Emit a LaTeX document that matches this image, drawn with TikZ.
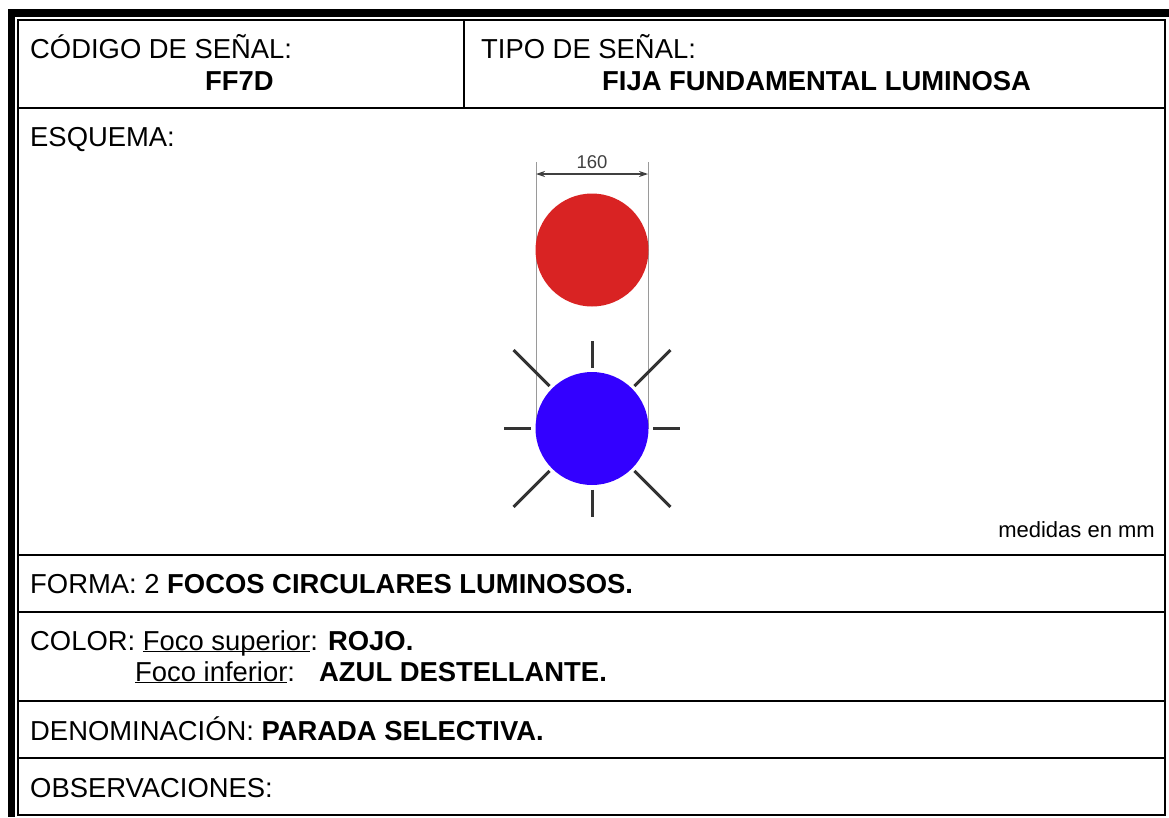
\documentclass[tikz,border=0pt]{standalone}
\usepackage{fontspec}
\setmainfont{Liberation Sans}
\usetikzlibrary{arrows.meta,calc}
\definecolor{sigred}{HTML}{D92323}
\definecolor{sigblue}{HTML}{3300FF}
\definecolor{raygray}{HTML}{333333}
\definecolor{dimgray}{HTML}{9A9A9A}
\newcommand{\ulword}[1]{\underline{\smash{#1}}}
\tikzset{
  lbl/.style={anchor=base west, inner sep=0pt, font=\fontsize{27.4}{30}\selectfont},
  blbl/.style={lbl, font=\fontsize{27.4}{30}\selectfont\bfseries},
  frameline/.style={line width=2pt, black},
  ray/.style={line width=3pt, raygray},
  extline/.style={line width=0.8pt, dimgray},
}
\begin{document}
\begin{tikzpicture}[x=1pt,y=-1pt]
\useasboundingbox (0,0) rectangle (1169,817);
% thick outer bars
\fill[black] (8,9) rectangle (1169,17);
\fill[black] (8,9) rectangle (15,817);
% inner frame
\draw[frameline] (18,20) rectangle (1165,815);
% row lines
\draw[frameline] (18,108) -- (1165,108);
\draw[frameline] (18,555) -- (1165,555);
\draw[frameline] (18,612) -- (1165,612);
\draw[frameline] (18,701) -- (1165,701);
\draw[frameline] (18,758) -- (1165,758);
\draw[frameline] (464,20) -- (464,108);
% header texts
\node[lbl] (cod) at (30,58) {CÓDIGO DE SEÑAL:};
\node[blbl] (ff) at (205,90) {FF7D};
\node[lbl] (tipo) at (481,58) {TIPO DE SEÑAL:};
\node[blbl] (fija) at (602,90) {FIJA FUNDAMENTAL LUMINOSA};
\node[lbl] (esq) at (30,146) {ESQUEMA:};
% scheme
\coordinate (rc) at (592,250);
\coordinate (bc) at (592,428.5);
\draw[extline] (536,162) -- (536,428.5);
\draw[extline] (648,162) -- (648,428.5);
\coordinate (dl) at (536,174);
\coordinate (dr) at (648,174);
\draw[line width=1.2pt, black!75, {Stealth[length=9pt,width=6pt]}-{Stealth[length=9pt,width=6pt]}] (dl) -- (dr);
\node[anchor=base, inner sep=0pt, font=\fontsize{18.5}{20}\selectfont, text=black!75] (dim) at (592,168) {160};
\fill[sigred] (rc) circle (56.5);
\foreach \a in {0,90,180,270} {
  \draw[ray] ($(bc)+(\a:61)$) -- ($(bc)+(\a:88)$);
}
\foreach \a in {45,135,225,315} {
  \draw[ray] ($(bc)+(\a:60)$) -- ($(bc)+(\a:111)$);
}
\fill[sigblue] (bc) circle (56.5);
\node[anchor=base east, inner sep=0pt, font=\fontsize{22}{24}\selectfont] (med) at (1155,537) {medidas en mm};
% rows
\node[lbl] (forma) at (30,593) {FORMA: 2 \textbf{FOCOS CIRCULARES LUMINOSOS.}};
\node[lbl] (color) at (30,650) {COLOR: \ulword{Foco superior}: \textbf{ROJO.}};
\node[lbl] (inf) at (135,681) {\ulword{Foco inferior}:};
\node[blbl] (azul) at (319,681) {AZUL DESTELLANTE.};
\node[lbl] (den) at (30,740) {DENOMINACIÓN: \textbf{PARADA SELECTIVA.}};
\node[lbl] (obs) at (30,797) {OBSERVACIONES:};
\end{tikzpicture}
\end{document}
